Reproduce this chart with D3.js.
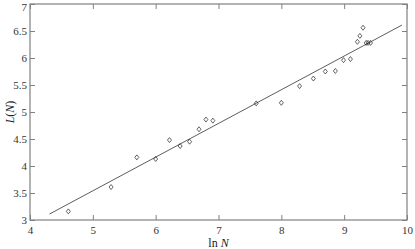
<!DOCTYPE html>
<html>
<head>
<meta charset="utf-8">
<script src="https://cdn.jsdelivr.net/npm/d3@7"></script>
<style>
  body { margin: 0; background: #fff; }
  text { font-family: "Liberation Serif", "Times New Roman", serif; }
</style>
</head>
<body>
<svg width="415" height="249"></svg>
<script>
const lnN = [4.61, 5.29, 5.70, 6.00, 6.22, 6.39, 6.54, 6.69, 6.80, 6.91, 7.60, 8.00,
             8.29, 8.51, 8.70, 8.86, 8.99, 9.10, 9.21, 9.25, 9.30, 9.35, 9.38, 9.42];
const LN = [3.16, 3.61, 4.16, 4.13, 4.48, 4.37, 4.45, 4.68, 4.86, 4.84, 5.16, 5.17,
            5.48, 5.62, 5.75, 5.76, 5.96, 5.98, 6.30, 6.41, 6.56, 6.28, 6.28, 6.28];
const fitX = [4.31, 9.92];
const fitY = [3.11, 6.61];
const xTicks = [4, 5, 6, 7, 8, 9, 10];
const yTicks = [3, 3.5, 4, 4.5, 5, 5.5, 6, 6.5, 7];

const svg = d3.select("svg");
const box = {left: 30, right: 407, top: 4, bottom: 220};
const x = d3.scaleLinear().domain([4, 10]).range([box.left, box.right]);
const y = d3.scaleLinear().domain([3, 7]).range([box.bottom, box.top]);
const axisColor = "#808080";

// fitted line
svg.append("line")
    .attr("x1", x(fitX[0])).attr("y1", y(fitY[0]))
    .attr("x2", x(fitX[1])).attr("y2", y(fitY[1]))
    .attr("stroke", "#333").attr("stroke-width", 0.8);

// diamonds
svg.selectAll(".pt")
    .data(lnN.map((v, i) => [v, LN[i]]))
    .enter().append("path")
    .attr("class", "pt")
    .attr("d", d => {
        const cx = x(d[0]), cy = y(d[1]);
        return `M${cx},${cy - 2.5}L${cx + 2},${cy}L${cx},${cy + 2.5}L${cx - 2},${cy}Z`;
    })
    .attr("fill", "none").attr("stroke", "#222").attr("stroke-width", 0.7);

// box
svg.append("rect")
    .attr("x", box.left).attr("y", box.top)
    .attr("width", box.right - box.left).attr("height", box.bottom - box.top)
    .attr("fill", "none").attr("stroke", axisColor).attr("stroke-width", 1.2);

function styleAxis(g) {
    g.select(".domain").remove();
    g.selectAll(".tick line").attr("stroke", axisColor);
    g.selectAll(".tick text").attr("fill", "#333").attr("font-size", 11);
}

svg.append("g").attr("transform", `translate(0,${box.bottom})`)
    .call(d3.axisBottom(x).tickValues(xTicks).tickFormat(d3.format("d")).tickSizeInner(-5).tickPadding(6))
    .call(styleAxis);
svg.append("g").attr("transform", `translate(0,${box.top})`)
    .call(d3.axisTop(x).tickValues(xTicks).tickFormat("").tickSizeInner(-5))
    .call(styleAxis);
svg.append("g").attr("transform", `translate(${box.left},0)`)
    .call(d3.axisLeft(y).tickValues(yTicks).tickFormat(d => String(d)).tickSizeInner(-5).tickPadding(3))
    .call(styleAxis)
    .selectAll(".tick text").attr("dy", d => d === 7 ? "0.6em" : "0.32em");
svg.append("g").attr("transform", `translate(${box.right},0)`)
    .call(d3.axisRight(y).tickValues(yTicks).tickFormat("").tickSizeInner(-5))
    .call(styleAxis);

// axis labels
const xl = svg.append("text")
    .attr("x", (box.left + box.right) / 2).attr("y", 247)
    .attr("text-anchor", "middle").attr("font-size", 12).attr("fill", "#222");
xl.append("tspan").text("ln ");
xl.append("tspan").attr("font-style", "italic").text("N");

const yl = svg.append("text")
    .attr("transform", `translate(14,${(box.top + box.bottom) / 2}) rotate(-90)`)
    .attr("text-anchor", "middle").attr("font-size", 12).attr("fill", "#222");
yl.append("tspan").attr("font-style", "italic").text("L");
yl.append("tspan").text("(");
yl.append("tspan").attr("font-style", "italic").text("N");
yl.append("tspan").text(")");
</script>
</body>
</html>
